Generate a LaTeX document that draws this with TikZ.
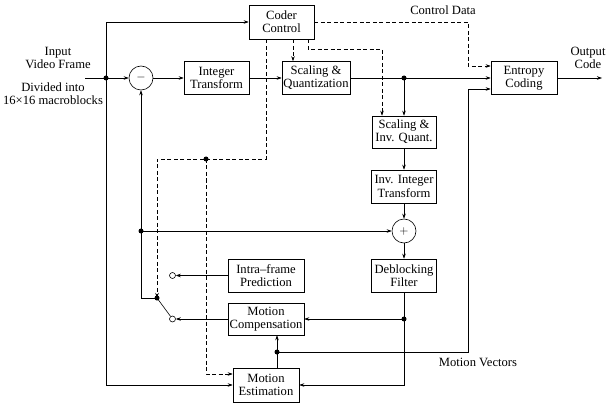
\documentclass[tikz,border=0pt]{standalone}
\usepackage{fontspec}
\setmainfont{Liberation Serif}
\usetikzlibrary{calc,arrows.meta,positioning}

\begin{document}
\begin{tikzpicture}[x=1pt,y=-1pt,>={Stealth[length=5pt,width=3.5pt]},
  font=\fontsize{12.6}{13.2}\selectfont, line width=0.6pt,
  blk/.style={draw,align=center,inner sep=1pt,minimum height=33pt},
  sumnode/.style={draw,circle,minimum size=24pt,inner sep=0pt},
  ctl/.style={dash pattern=on 4pt off 2.5pt},
  tap/.style={circle,draw,fill=white,inner sep=0pt,minimum size=6pt}]
\useasboundingbox (0,0) rectangle (615,414);

\node[blk,minimum width=65pt,minimum height=34pt] (coder) at (281.5,22) {Coder\\Control};
\node[sumnode] (sub) at (141,78) {$-$};
\node[blk,minimum width=65pt] (inttr) at (216.5,78) {Integer\\Transform};
\node[blk,minimum width=68pt] (scq) at (316,78) {Scaling \&\\Quantization};
\node[blk,minimum width=66pt] (ent) at (524,78) {Entropy\\Coding};
\node[blk,minimum width=64pt,minimum height=32pt] (siq) at (404,132) {Scaling \&\\Inv. Quant.};
\node[blk,minimum width=65pt] (iit) at (404,186.5) {Inv. Integer\\Transform};
\node[sumnode] (add) at (404,231) {$+$};
\node[blk,minimum width=65pt] (dbf) at (404,275.5) {Deblocking\\Filter};
\node[blk,minimum width=76pt] (intra) at (266,275.5) {Intra--frame\\Prediction};
\node[blk,minimum width=76pt,minimum height=32pt] (mc) at (266,319) {Motion\\Compensation};
\node[blk,minimum width=66pt,minimum height=34pt] (me) at (266,385) {Motion\\Estimation};

\node[align=center] (inlbl) at (58,58) {Input\\Video Frame};
\node[align=center] (divlbl) at (53,94) {Divided into\\16×16 macroblocks};
\node (ctllbl) at (443,10) {Control Data};
\node[align=center] (outlbl) at (588,58) {Output\\Code};
\node (mvlbl) at (478,362) {Motion Vectors};

\node[tap] (tapA) at (172.5,275.5) {};
\node[tap] (tapB) at (172.5,319) {};

\coordinate (vin) at (85,78);
\coordinate (split) at (106,78);
\coordinate (vout) at (602,78);
\coordinate (qtap) at (404,78);
\coordinate (rtap) at (404,319);
\coordinate (ftap) at (141,231);
\coordinate (pivot) at (157,298);
\coordinate (mvtap) at (277,352);
\coordinate (mtap) at (206,159);
\coordinate (cdin) at ($(ent.west)+(0,-12)$);
\coordinate (mvin) at ($(ent.west)+(0,11)$);

% forward path
\draw (vin) -- (split);
\draw[->] (split) -- (sub);
\draw[->] (split) |- (coder.west);
\draw[->] (split) |- (me.west);
\draw[->] (sub) -- (inttr);
\draw[->] (inttr) -- (scq);
\draw[->] (scq) -- (ent);
\draw[->] (ent) -- (vout);

% reconstruction loop
\draw[->] (qtap) -- (siq);
\draw[->] (siq) -- (iit);
\draw[->] (iit) -- (add);
\draw[->] (add) -- (dbf);
\draw (dbf) -- (rtap);
\draw[->] (rtap) -- (mc.east);
\draw[->] (rtap) |- (me.east);
\draw[->] (pivot) -| (sub.south);
\draw[->] (ftap) -- (add.west);
\draw (pivot) -- (tapB);
\draw[->] (intra.west) -- (tapA);
\draw[->] (mc.west) -- (tapB);

% motion vectors
\draw (mvtap |- me.north) -- (mvtap);
\draw[->] (mvtap) -- (mvtap |- mc.south);
\draw[->] (mvtap) -| (mvin -| 468,0) -- (mvin);

% control signals
\draw[ctl,->] (coder.east) -| (cdin -| 468,0) -- (cdin);
\draw[ctl,->] ([xshift=11.5pt]coder.south) -- ([xshift=11.5pt]coder.south |- scq.north);
\draw[ctl,->] ([xshift=26.5pt]coder.south) -- ++(0,10) -| ([xshift=-22pt]siq.north);
\draw[ctl,->] ([xshift=-15.5pt]coder.south) |- (mtap) -| (pivot);
\draw[ctl,->] (mtap) |- ([yshift=11pt]me.west);

\foreach \p in {split,qtap,rtap,ftap,pivot,mvtap,mtap}
  \fill (\p) circle (2.5pt);
\end{tikzpicture}
\end{document}
